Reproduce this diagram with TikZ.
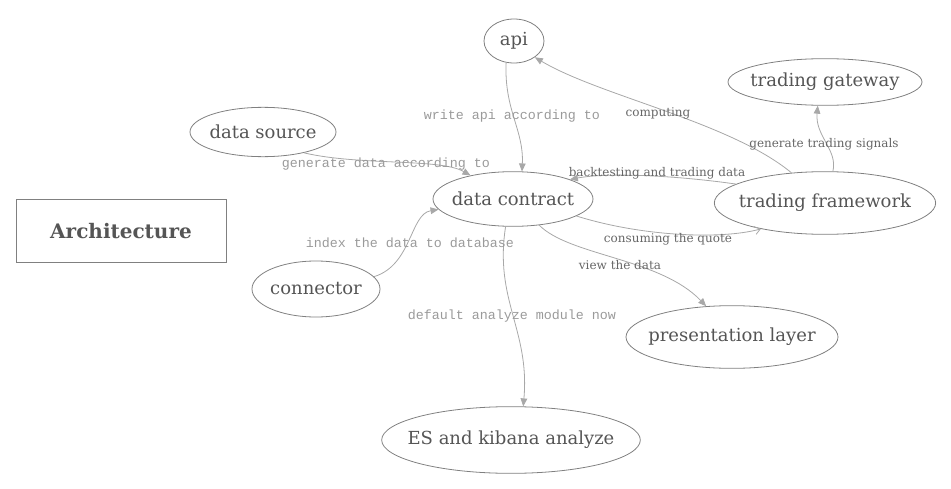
\documentclass[tikz,border=0pt]{standalone}
\usepackage{fontspec}
\setmainfont{DejaVu Serif}
\setmonofont{Liberation Mono}
\usetikzlibrary{shapes.geometric, arrows.meta}

\definecolor{nodeline}{HTML}{808080}
\definecolor{nodetext}{HTML}{555555}
\definecolor{edgeline}{HTML}{A8A8A8}
\definecolor{lbltext}{HTML}{666666}
\definecolor{codetext}{HTML}{9A9A9A}

% text that does not widen its ellipse
\newcommand{\modtext}[1]{\makebox[0pt]{#1}}

\begin{document}
\begin{tikzpicture}[
    x=0.75pt, y=-0.75pt,
    module/.style={ellipse, draw=nodeline, line width=0.6pt, text=nodetext, font=\fontsize{13.5}{16}\selectfont, inner sep=0pt},
    titlebox/.style={rectangle, draw=nodeline, line width=0.6pt, text=nodetext, font=\fontsize{15}{18}\selectfont\bfseries, minimum width=157.5pt, minimum height=47pt},
    lbl/.style={text=lbltext, font=\fontsize{9}{11}\selectfont, inner sep=1pt},
    codelbl/.style={text=codetext, font=\ttfamily\fontsize{10}{12}\selectfont, inner sep=1pt},
    edge/.style={draw=edgeline, line width=0.6pt, -{Triangle[length=6pt, width=5pt, fill=edgeline]}},
    openedge/.style={draw=edgeline, line width=0.6pt, -{Straight Barb[length=4pt, width=6pt]}}
]
\useasboundingbox (0,0) rectangle (951,489);

% Nodes
\node (arch) [titlebox] at (121,231) {Architecture};

\node (api) [module, minimum width=45pt, minimum height=33pt] at (514,41) {\modtext{api}};
\node (gateway) [module, minimum width=145.5pt, minimum height=35pt] at (825,82) {\modtext{trading gateway}};
\node (source) [module, minimum width=109.5pt, minimum height=37pt] at (263,132) {\modtext{data source}};
\node (contract) [module, minimum width=120pt, minimum height=41pt] at (513,199) {\modtext{data contract}};
\node (framework) [module, minimum width=166pt, minimum height=47pt] at (825,203) {\modtext{trading framework}};
\node (connector) [module, minimum width=96pt, minimum height=42pt] at (316,289) {\modtext{connector}};
\node (presentation) [module, minimum width=159pt, minimum height=47pt] at (732,337) {\modtext{presentation layer}};
\node (es) [module, minimum width=194pt, minimum height=50pt] at (511,440) {\modtext{ES and kibana analyze}};

% Arrows
\draw [edge] (api.-110) .. controls (504,110) and (524,130) .. (contract.72);
\draw [edge] (source.-27) .. controls (360,166) and (440,158) .. (contract.151);
\draw [edge] (connector.12) .. controls (412,265) and (410,214) .. (contract.188);
\draw [edge] (contract.-105) .. controls (494,300) and (530,330) .. (es.70);
\draw [edge] (contract.-45) .. controls (570,256) and (660,258) .. (presentation.130);
\draw [openedge] (contract.-15) .. controls (640,236) and (720,240) .. (framework.-158);
\draw [edge] (framework.168) .. controls (680,176) and (610,172) .. (contract.19);
\draw [edge] (framework.138) .. controls (730,122) and (600,96) .. (api.-38);
\draw [edge] (framework.76) .. controls (838,150) and (815,136) .. (gateway.-107);

% Labels
\node (lapi) [codelbl] at (512,116) {write api according to};
\node (lsource) [codelbl] at (386,164) {generate data according to};
\node (lconnector) [codelbl] at (410,243) {index the data to database};
\node (les) [codelbl] at (512,316) {default analyze module now};
\node (lview) [lbl] at (620,265) {view the data};
\node (lquote) [lbl] at (668,239) {consuming the quote};
\node (lbacktest) [lbl] at (657,173) {backtesting and trading data};
\node (lcompute) [lbl] at (658,113) {computing};
\node (lsignal) [lbl] at (824,144) {generate trading signals};

\end{tikzpicture}
\end{document}
